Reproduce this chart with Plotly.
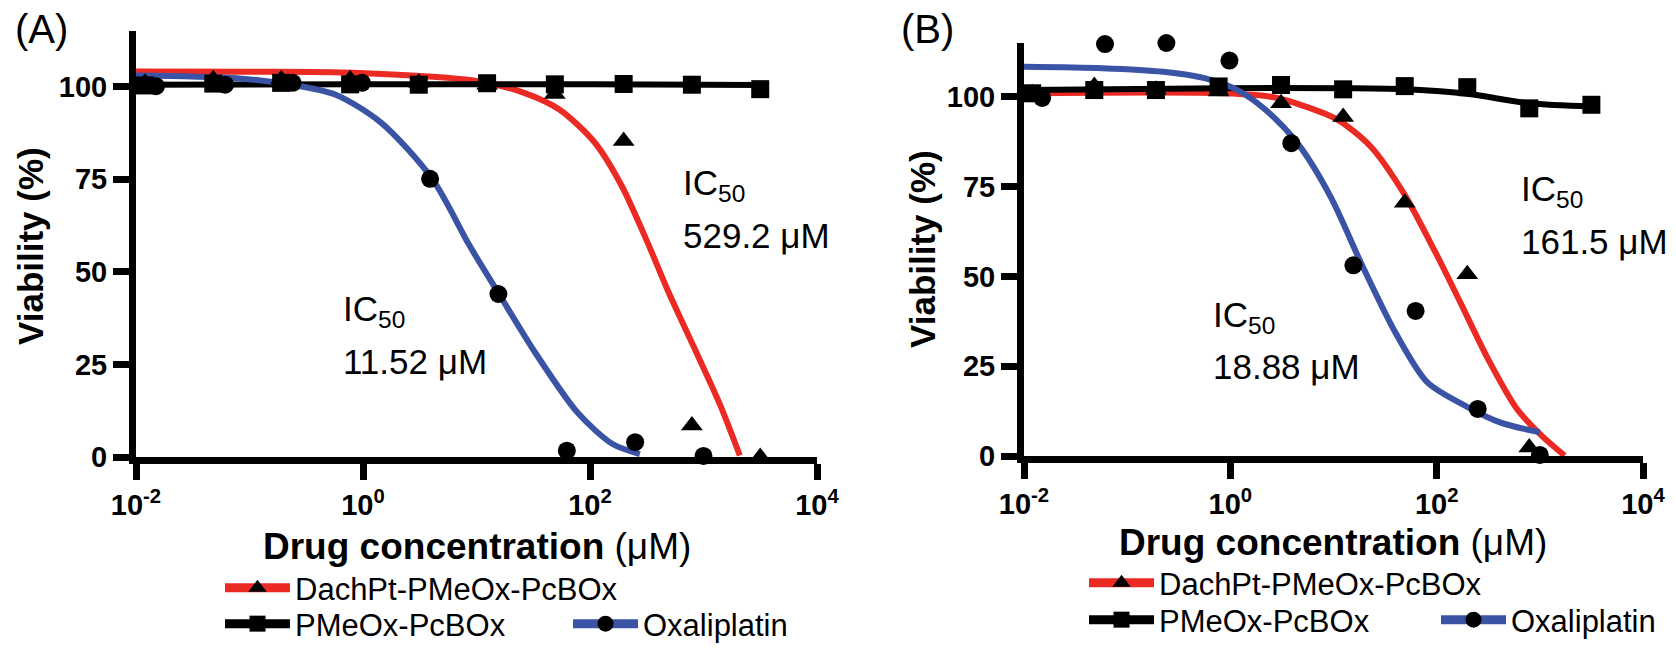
import plotly.graph_objects as go

# The page body has an 8 px margin, so the figure is drawn 8 px in from the
# window corner; layout pixel positions below are given in window pixels.
WIN_W, WIN_H = 1676, 649
OFF = 8
W, H = WIN_W - 2 * OFF, WIN_H - OFF
FONT = "Liberation Sans, Arial, sans-serif"
RED = "#EC2A24"
BLUE = "#3A53A4"
BLACK = "#000000"

# ---------------- data ----------------
# concentrations (µM)
conc_polymer = [0.012, 0.048, 0.19, 0.77, 3.1, 12.4, 49, 198, 790, 3160]
conc_oxali = [0.015, 0.061, 0.24, 0.98, 3.9, 15.6, 62.5, 250, 1000]

# Panel A viability (%)
a_dachpt = [101, 102, 102, 102, 101, 100.5, 98, 85.3, 8.5, 0]
a_pmeox = [100.3, 100.8, 101.0, 100.6, 100.5, 100.9, 100.6, 100.7, 100.5, 99.3]
a_oxali = [100.1, 100.5, 101, 101, 75.1, 44, 1.7, 4, 0.3]

# Panel B viability (%)
b_dachpt = [101, 103, 102, 101.5, 98.2, 94.4, 70.5, 50.6, 2.4, -0.3]
b_pmeox = [101, 101.9, 101.9, 102.9, 103.3, 102.1, 103, 102.7, 96.8, 97.8]
b_oxali = [99.7, 114.7, 115, 110.1, 87.1, 53.1, 40.4, 13.1, 0.3]

# fitted dose-response curves
a_fit_dachpt_x = [0.01, 0.1, 0.83, 10.5, 26.3, 53.7, 110, 191, 331, 479, 813, 1413, 2089]
a_fit_dachpt_y = [104.1, 104.0, 103.7, 101.4, 98.3, 93.8, 84.9, 73.1, 57, 45.3, 30, 13.8, 0.4]
a_fit_pmeox_x = [0.01, 1, 100, 3160]
a_fit_pmeox_y = [100.5, 100.6, 100.6, 100.4]
a_fit_oxali_x = [0.01, 0.0724, 0.234, 0.575, 1.45, 4.07, 8.71, 15.8, 31.6, 77.6, 158, 275]
a_fit_oxali_y = [103, 102.3, 100.5, 97.8, 90.2, 75.1, 57, 44, 29, 12, 3.5, 0.8]

b_fit_dachpt_x = [0.01, 0.871, 2.63, 5.37, 11.0, 22.9, 47.9, 97.7, 170, 316, 603, 1047, 1738]
b_fit_dachpt_y = [101, 101, 99.9, 97.3, 93.6, 86.2, 73.2, 56.6, 42.7, 26.9, 13, 5.6, 0.1]
b_fit_pmeox_x = [0.01, 0.871, 13.5, 52.5, 204, 794, 3160]
b_fit_pmeox_y = [101.9, 102.4, 102.4, 102.1, 100.8, 98.2, 97.3]
b_fit_oxali_x = [0.01, 0.0575, 0.224, 0.562, 1.15, 2.19, 4.47, 9.33, 19.1, 39.8, 81.3, 204, 417, 1000]
b_fit_oxali_y = [108.4, 108, 107, 105.2, 102, 96.4, 87.1, 72.3, 52.9, 34.4, 20.5, 13.5, 9.3, 6.6]

series_names = ["DachPt-PMeOx-PcBOx", "PMeOx-PcBOx", "Oxaliplatin"]
ic50_a = ["11.52 μM", "529.2 μM"]
ic50_b = ["18.88 μM", "161.5 μM"]

x_tickvals = [0.01, 1, 100, 10000]
x_ticktext = ["10<sup>-2</sup>", "10<sup>0</sup>", "10<sup>2</sup>", "10<sup>4</sup>"]
y_tickvals = [0, 25, 50, 75, 100]


def px(xw):
    """window x pixel -> paper fraction"""
    return (xw - OFF) / W


def py(yw):
    """window y pixel -> paper fraction"""
    return 1 - (yw - OFF) / H


# ---------------- figure ----------------
fig = go.Figure()


def add_panel(xa, ya, fits, points, legends):
    (fdx, fdy), (fpx, fpy), (fox, foy) = fits
    (pd_, pp_, po_) = points
    # fitted curves
    for fx, fy, col in [(fdx, fdy, RED), (fpx, fpy, BLACK), (fox, foy, BLUE)]:
        fig.add_trace(go.Scatter(x=fx, y=fy, mode="lines", xaxis=xa, yaxis=ya,
                                 line=dict(color=col, width=6, shape="spline", smoothing=0.8),
                                 showlegend=False, cliponaxis=False, hoverinfo="skip"))
    # data points
    for xs, ys, sym, sz in [(conc_polymer, pd_, "triangle-up", 19),
                            (conc_polymer, pp_, "square", 18),
                            (conc_oxali, po_, "circle", 18)]:
        fig.add_trace(go.Scatter(x=xs, y=ys, mode="markers", xaxis=xa, yaxis=ya,
                                 marker=dict(symbol=sym, color=BLACK, size=sz),
                                 showlegend=False, cliponaxis=False))
    # legend entries
    for name, col, sym, leg in [(series_names[0], RED, "triangle-up", legends[0]),
                                (series_names[1], BLACK, "square", legends[1]),
                                (series_names[2], BLUE, "circle", legends[1])]:
        fig.add_trace(go.Scatter(x=[None], y=[None], mode="lines+markers", name=name,
                                 xaxis=xa, yaxis=ya, legend=leg,
                                 line=dict(color=col, width=9),
                                 marker=dict(symbol=sym, color=BLACK, size=16)))


add_panel("x", "y",
          [(a_fit_dachpt_x, a_fit_dachpt_y), (a_fit_pmeox_x, a_fit_pmeox_y), (a_fit_oxali_x, a_fit_oxali_y)],
          (a_dachpt, a_pmeox, a_oxali), ("legend", "legend2"))
add_panel("x2", "y2",
          [(b_fit_dachpt_x, b_fit_dachpt_y), (b_fit_pmeox_x, b_fit_pmeox_y), (b_fit_oxali_x, b_fit_oxali_y)],
          (b_dachpt, b_pmeox, b_oxali), ("legend3", "legend4"))

# plot areas in window pixels: (left, right, top, bottom)
A = (136, 817, 31, 457)
B = (1024, 1643, 43, 456)


def xdom(p):
    return [px(p[0]), px(p[1])]


def ydom(p):
    return [py(p[3]), py(p[2])]


axis_common = dict(showline=True, linewidth=7, linecolor=BLACK, ticks="outside",
                   ticklen=16, tickwidth=7, tickcolor=BLACK, showgrid=False,
                   zeroline=False, layer="below traces", automargin=False,
                   tickfont=dict(family=FONT, size=29, color=BLACK, weight="bold"))

fig.update_layout(
    xaxis=dict(domain=xdom(A), anchor="y", type="log", range=[-2, 4],
               tickvals=x_tickvals, ticktext=x_ticktext, **axis_common),
    yaxis=dict(domain=ydom(A), anchor="x", range=[0, 115], tickvals=y_tickvals, **axis_common),
    xaxis2=dict(domain=xdom(B), anchor="y2", type="log", range=[-2, 4],
                tickvals=x_tickvals, ticktext=x_ticktext, **axis_common),
    yaxis2=dict(domain=ydom(B), anchor="x2", range=[0, 115], tickvals=y_tickvals, **axis_common),
)

leg_common = dict(orientation="h", xanchor="left", yanchor="top", itemwidth=65,
                  bgcolor="rgba(0,0,0,0)", font=dict(family=FONT, size=31, color=BLACK),
                  itemclick=False, itemdoubleclick=False)
fig.update_layout(
    legend=dict(x=px(220), y=py(588 - 27), **leg_common),
    legend2=dict(x=px(220), y=py(624 - 27), entrywidth=268, **leg_common),
    legend3=dict(x=px(1084), y=py(583 - 27), **leg_common),
    legend4=dict(x=px(1084), y=py(620 - 27), entrywidth=272, **leg_common),
)

annotations = []
txt_font = dict(family=FONT, size=35, color=BLACK)


def add_ic50(xref, yref, xlog, y1, y2, value):
    annotations.append(dict(x=xlog, y=y1, xref=xref, yref=yref, text="IC<sub>50</sub>",
                            xanchor="left", yanchor="middle", showarrow=False, font=txt_font))
    annotations.append(dict(x=xlog, y=y2, xref=xref, yref=yref, text=value,
                            xanchor="left", yanchor="middle", showarrow=False, font=txt_font))


add_ic50("x", "y", -0.19, 39.5, 25.8, ic50_a[0])
add_ic50("x", "y", 2.80, 73.3, 59.8, ic50_a[1])
add_ic50("x2", "y2", -0.19, 38.8, 24.9, ic50_b[0])
add_ic50("x2", "y2", 2.80, 73.7, 59.7, ic50_b[1])

# axis titles and panel labels
annotations += [
    dict(x=px(477), y=py(546), xref="paper", yref="paper", showarrow=False,
         text="<b>Drug concentration </b>(μM)", font=dict(family=FONT, size=37, color=BLACK),
         xanchor="center", yanchor="middle"),
    dict(x=px(1333), y=py(542), xref="paper", yref="paper", showarrow=False,
         text="<b>Drug concentration </b>(μM)", font=dict(family=FONT, size=37, color=BLACK),
         xanchor="center", yanchor="middle"),
    dict(x=px(31), y=py(246), xref="paper", yref="paper", showarrow=False, textangle=-90,
         text="<b>Viability (%)</b>", font=dict(family=FONT, size=35, color=BLACK),
         xanchor="center", yanchor="middle"),
    dict(x=px(922), y=py(249), xref="paper", yref="paper", showarrow=False, textangle=-90,
         text="<b>Viability (%)</b>", font=dict(family=FONT, size=35, color=BLACK),
         xanchor="center", yanchor="middle"),
    dict(x=px(41), y=py(29), xref="paper", yref="paper", showarrow=False,
         text="(A)", font=dict(family=FONT, size=40, color=BLACK), xanchor="center", yanchor="middle"),
    dict(x=px(927), y=py(29), xref="paper", yref="paper", showarrow=False,
         text="(B)", font=dict(family=FONT, size=40, color=BLACK), xanchor="center", yanchor="middle"),
]

fig.update_layout(
    annotations=annotations,
    width=W, height=H,
    margin=dict(l=0, r=0, t=0, b=0, autoexpand=False),
    paper_bgcolor="white", plot_bgcolor="white",
    hovermode=False,
)

fig.write_html("out.html", config={"displayModeBar": False})
